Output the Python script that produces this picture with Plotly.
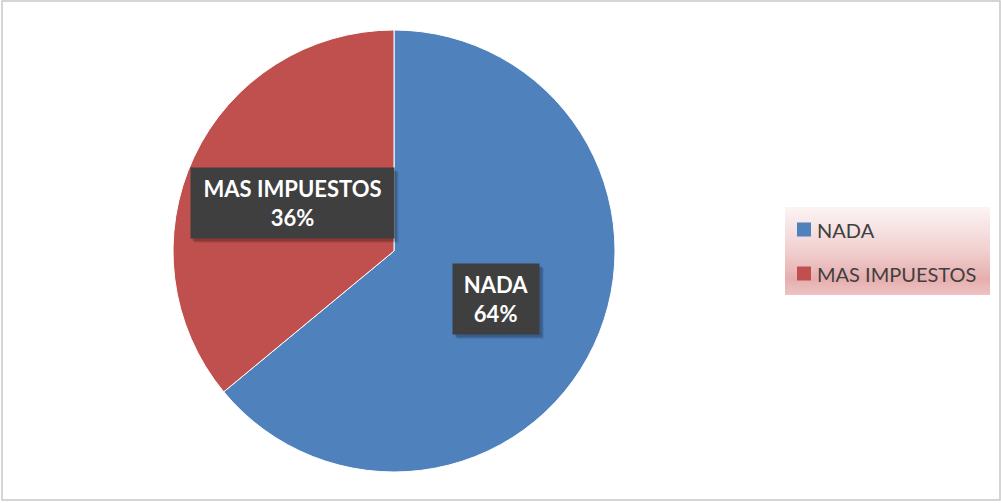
import math
import plotly.graph_objects as go

# ---- data ----
labels = ["NADA", "MAS IMPUESTOS"]
values = [64, 36]
colors = ["#4f81bd", "#c0504d"]

# ---- layout constants (pixels) ----
W, H = 1001, 503
CX, CY, R = 394, 251, 221
LABEL_R = 0.51
LABEL_BOX = {"NADA": (86, 70), "MAS IMPUESTOS": (203, 70)}

def px(x):
    return x / W

def py(y):
    return 1 - y / H

fig = go.Figure(go.Pie(
    labels=labels,
    values=values,
    sort=False,
    direction="clockwise",
    rotation=0,
    marker=dict(colors=colors, line=dict(color="white", width=1)),
    textinfo="none",
    hoverinfo="label+percent",
    showlegend=False,
    domain=dict(x=[px(CX - R), px(CX + R)], y=[py(CY + R), py(CY - R)]),
))

shapes = []
annotations = []

# outer border of chart area
shapes.append(dict(type="rect", xref="paper", yref="paper",
                   x0=px(2), x1=px(1000), y0=py(500), y1=py(1),
                   line=dict(color="#c8c8c8", width=1.5), fillcolor="rgba(0,0,0,0)"))

# data labels in dark boxes
total = sum(values)
cum = 0
for lab, v in zip(labels, values):
    mid = (cum + v / 2) / total * 2 * math.pi
    cum += v
    lx = CX + LABEL_R * R * math.sin(mid)
    ly = CY - LABEL_R * R * math.cos(mid)
    bw, bh = LABEL_BOX[lab]
    pct = round(v / total * 100)
    txt = f"<b>{lab}<br>{pct}%</b>"
    # soft shadow
    for off, op in ((5, 0.08), (4, 0.1), (3, 0.12)):
        shapes.append(dict(type="rect", xref="paper", yref="paper",
                           x0=px(lx - bw / 2 + off - 1), x1=px(lx + bw / 2 + off),
                           y0=py(ly + bh / 2 + off), y1=py(ly - bh / 2 + off - 1),
                           line=dict(width=0), fillcolor=f"rgba(0,0,0,{op})"))
    annotations.append(dict(x=px(lx), y=py(ly), xref="paper", yref="paper",
                            xanchor="center", yanchor="middle",
                            text=txt, showarrow=False, width=bw, height=bh,
                            font=dict(family="Lato", size=22, color="white"),
                            bgcolor="#3f3f3f", borderpad=0, align="center", valign="middle"))

# legend box with vertical gradient
LX0, LX1, LY0, LY1 = 785, 990, 207, 295
stops = [(0.0, (252, 244, 244)), (0.5, (241, 207, 207)), (0.82, (230, 174, 174)), (1.0, (237, 194, 194))]

def grad(t):
    for (t0, c0), (t1, c1) in zip(stops[:-1], stops[1:]):
        if t <= t1:
            f = (t - t0) / (t1 - t0) if t1 > t0 else 0
            return tuple(int(round(a + (b - a) * f)) for a, b in zip(c0, c1))
    return stops[-1][1]

n = LY1 - LY0
for i in range(n):
    c = grad(i / (n - 1))
    shapes.append(dict(type="rect", xref="paper", yref="paper",
                       x0=px(LX0), x1=px(LX1), y0=py(LY0 + i + 1.05), y1=py(LY0 + i),
                       line=dict(width=0), fillcolor=f"rgb{c}", layer="below"))

# legend entries
ITEM_Y0, ITEM_DY = 229.5, 44
for k, (lab, col) in enumerate(zip(labels, colors)):
    yc = ITEM_Y0 + k * ITEM_DY
    shapes.append(dict(type="rect", xref="paper", yref="paper",
                       x0=px(797), x1=px(811), y0=py(yc + 7), y1=py(yc - 7),
                       line=dict(width=0), fillcolor=col))
    annotations.append(dict(x=px(815), y=py(yc), xref="paper", yref="paper",
                            xanchor="left", yanchor="middle", text=lab, showarrow=False,
                            font=dict(family="Lato", size=20, color="#404040")))

fig.update_layout(
    width=W, height=H,
    margin=dict(l=0, r=0, t=0, b=0),
    paper_bgcolor="white",
    plot_bgcolor="white",
    shapes=shapes,
    annotations=annotations,
)

fig.write_html("out.html", config={"displayModeBar": False},
               post_script="document.body.style.margin='0px';document.body.style.overflow='hidden';")
